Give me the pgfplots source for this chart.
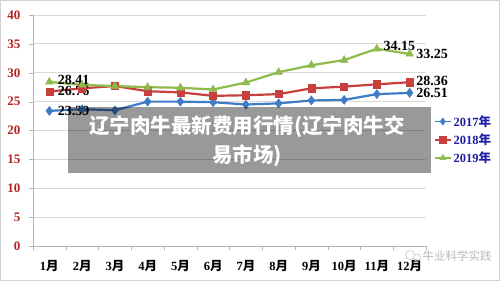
\documentclass[border=0pt]{standalone}
\usepackage{fontspec}
\setmainfont{Liberation Serif}
\newfontfamily\cjk{Noto Sans CJK SC}
\usepackage{pgfplots}
\pgfplotsset{compat=1.18}
\definecolor{darkred}{HTML}{B22222}
\definecolor{lblue}{HTML}{3F7CC6}
\definecolor{lred}{HTML}{C8403C}
\definecolor{lgreen}{HTML}{8DBB4C}
\definecolor{legblue}{HTML}{1C1CA6}
\begin{document}
\begin{tikzpicture}[x=1pt,y=1pt]
\fill[white] (0,0) rectangle (500,281);
\draw[gray!35] (0.5,0.5) rectangle (499.5,280.5);
\begin{axis}[
  at={(33pt,35pt)}, anchor=south west,
  scale only axis, width=393pt, height=231pt,
  xmin=-0.5, xmax=11.5, ymin=0, ymax=40,
  ytick={0,5,...,40},
  xtick={0,...,11},
  xticklabels={1{\cjk 月},2{\cjk 月},3{\cjk 月},4{\cjk 月},5{\cjk 月},6{\cjk 月},7{\cjk 月},8{\cjk 月},9{\cjk 月},10{\cjk 月},11{\cjk 月},12{\cjk 月}},
  minor xtick={-0.5,0.5,...,11.5},
  major x tick style={draw=none},
  minor tick length=4pt,
  major tick length=4pt,
  tick align=outside,
  tick pos=left,
  tick style={gray!60},
  axis x line*=bottom, axis y line*=left,
  axis line style={gray!60},
  ymajorgrids, grid style={gray!30, line width=0.8pt},
  /pgf/number format/assume math mode=true,
  yticklabel style={text=darkred, font=\bfseries\fontsize{13}{14}\selectfont, xshift=-5pt},
  xticklabel style={text=black, font=\bfseries\fontsize{12.5}{14}\selectfont, yshift=-7pt},
  every axis plot/.append style={line width=2.2pt},
  legend style={at={(1.02,0.46)}, anchor=west, draw=none, fill=none,
    font=\bfseries\fontsize{12.5}{14}\selectfont, text=legblue,
    row sep=2pt, inner sep=0pt},
  legend cell align=left,
  legend image code/.code={\draw[#1, line width=1.6pt] (0pt,0pt) -- (16pt,0pt); \draw[#1, mark size=3.5pt] plot coordinates {(8pt,0pt)};},
  clip=false,
]
\addplot[color=lblue, mark=diamond*, mark size=4.5pt, mark options={fill=lblue, line width=0.5pt}] coordinates {
(0,23.39)(1,23.7)(2,23.5)(3,25.0)(4,25.0)(5,24.9)(6,24.5)(7,24.7)(8,25.2)(9,25.3)(10,26.3)(11,26.51)};
\addlegendentry{2017{\cjk 年}}
\addplot[color=lred, mark=square*, mark size=3.6pt, mark options={fill=lred, line width=0.5pt}] coordinates {
(0,26.76)(1,27.3)(2,27.7)(3,26.8)(4,26.6)(5,26.0)(6,26.1)(7,26.3)(8,27.3)(9,27.6)(10,28.0)(11,28.36)};
\addlegendentry{2018{\cjk 年}}
\addplot[color=lgreen, mark=triangle*, mark size=4.5pt, mark options={fill=lgreen, line width=0.5pt}] coordinates {
(0,28.41)(1,27.9)(2,27.7)(3,27.5)(4,27.4)(5,27.1)(6,28.3)(7,30.1)(8,31.3)(9,32.2)(10,34.15)(11,33.25)};
\addlegendentry{2019{\cjk 年}}
\begin{scope}[every node/.style={font=\bfseries\fontsize{14}{15}\selectfont, text=black, anchor=west, inner sep=0pt}]
\node at (axis cs:0.25,28.8) {28.41};
\node at (axis cs:0.25,26.9) {26.76};
\node at (axis cs:0.25,23.4) {23.39};
\node at (axis cs:10.2,34.6) {34.15};
\node at (axis cs:11.2,33.2) {33.25};
\node at (axis cs:11.2,28.5) {28.36};
\node at (axis cs:11.2,26.5) {26.51};
\end{scope}
\end{axis}
\fill[black, opacity=0.4] (68,108) rectangle (431,174);
\node[text=white, font=\cjk\bfseries\fontsize{20.5}{29}\selectfont, align=center] at (247,140) {辽宁肉牛最新费用行情(辽宁肉牛交\\易市场)};
\node[text=gray!55, font=\cjk\fontsize{11.5}{12}\selectfont, anchor=west] at (419,25) {牛业科学实践};
\draw[gray!45, line width=0.6pt] (410,26) circle (4.5) (417,23.5) circle (3.5);
\end{tikzpicture}
\end{document}
